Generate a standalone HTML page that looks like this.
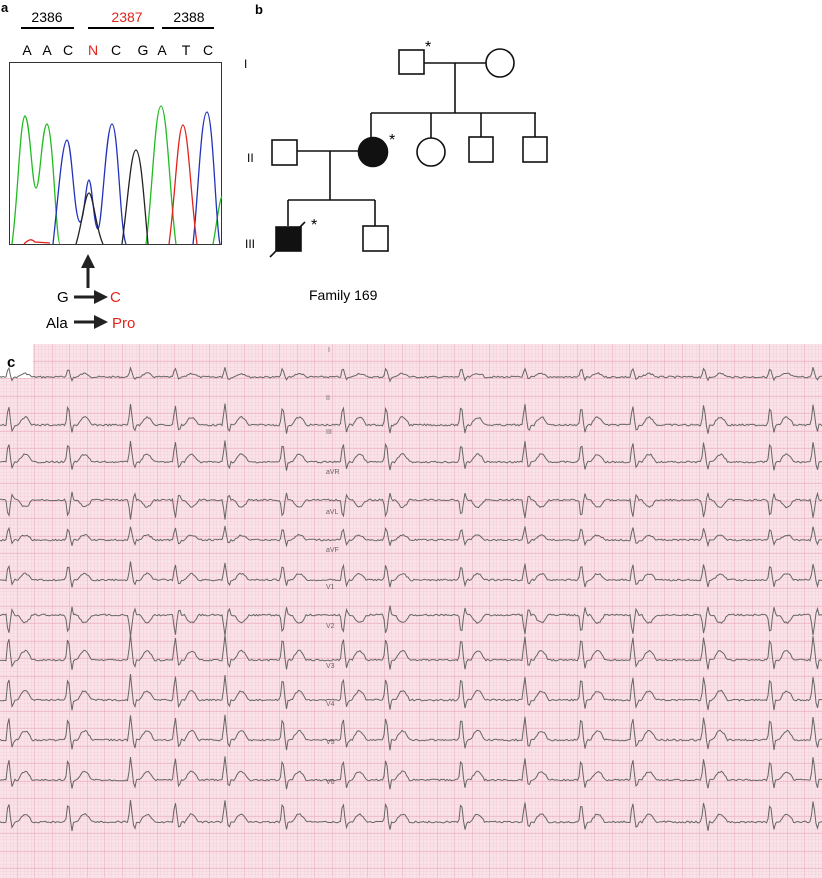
<!DOCTYPE html>
<html><head><meta charset="utf-8"><style>
html,body{margin:0;padding:0;background:#fff;}
body{width:822px;height:878px;position:relative;overflow:hidden;font-family:"Liberation Sans",sans-serif;}
svg{position:absolute;left:0;top:0;}
</style></head><body>
<svg width="822" height="878" viewBox="0 0 822 878" xmlns="http://www.w3.org/2000/svg">
<defs>
<pattern id="minor" width="3.5" height="3.5" patternUnits="userSpaceOnUse">
<path d="M3.5 0V3.5H0" fill="none" stroke="#f1c3cf" stroke-width="0.6"/>
</pattern>
<pattern id="major" x="0" y="344" width="17.5" height="17.5" patternUnits="userSpaceOnUse">
<path d="M17.5 0V17.5H0" fill="none" stroke="#e6a0b4" stroke-width="0.9"/>
</pattern>
</defs>
<rect x="0" y="344" width="822" height="534" fill="#fae2e9"/>
<rect x="0" y="344" width="822" height="534" fill="url(#minor)"/>
<rect x="0" y="344" width="822" height="534" fill="url(#major)"/>
<rect x="0" y="340" width="33" height="38" fill="#fff"/>
<text x="7" y="367" font-size="15" font-weight="bold">c</text>
<g id="ecg" fill="none" stroke="#666" stroke-width="1"></g>
<g font-size="7" fill="#666">
<text x="328" y="352">I</text><text x="326" y="400">II</text><text x="326" y="434">III</text>
<text x="326" y="474">aVR</text><text x="326" y="514">aVL</text><text x="326" y="552">aVF</text>
<text x="326" y="589">V1</text><text x="326" y="628">V2</text><text x="326" y="668">V3</text>
<text x="326" y="706">V4</text><text x="326" y="744">V5</text><text x="326" y="784">V6</text>
</g>

<text x="1" y="12" font-size="13" font-weight="bold">a</text>
<g font-size="14" text-anchor="middle">
<text x="47" y="22">2386</text><text x="127" y="22" fill="#e2231a">2387</text><text x="189" y="22">2388</text>
</g>
<g stroke="#000" stroke-width="2"><line x1="21" y1="28" x2="74" y2="28"/><line x1="88" y1="28" x2="154" y2="28"/><line x1="162" y1="28" x2="214" y2="28"/></g>
<g font-size="14" text-anchor="middle">
<text x="27" y="55">A</text><text x="47" y="55">A</text><text x="68" y="55">C</text><text x="93" y="55" fill="#e2231a">N</text><text x="116" y="55">C</text><text x="143" y="55">G</text><text x="162" y="55">A</text><text x="186" y="55">T</text><text x="208" y="55">C</text>
</g>
<rect x="9.5" y="62.5" width="212" height="182" fill="#fff" stroke="#333" stroke-width="1"/>
<g fill="none" stroke-width="1.3">
<path d="M12 244 C18 200 20 118 25 116 C30 118 32 188 36 188 C40 188 42 125 47 124 C53 126 56 244 60 244" stroke="#22bb22"/>
<path d="M146 244 C152 200 155 106 161 106 C167 106 170 200 176 244" stroke="#22bb22"/>
<path d="M213 244 C216 230 219 200 222 196" stroke="#22bb22"/>
<path d="M53 244 C58 200 62 141 67 140 C72 141 74 220 80 222 C84 222 86 180 89 180 C92 181 94 229 98 229 C102 228 106 124 112 124 C118 124 120 230 126 244" stroke="#2233bb"/>
<path d="M193 244 C198 200 201 112 207 112 C213 113 216 230 220 244" stroke="#2233bb"/>
<path d="M76 244 C82 225 85 193 89 193 C93 193 96 230 103 244" stroke="#222"/>
<path d="M122 244 C128 200 131 150 136 150 C141 151 144 200 148 244" stroke="#222"/>
<path d="M169 244 C175 200 178 125 183 125 C188 126 191 200 197 244" stroke="#e2231a"/>
<path d="M24 244 C28 240 31 238 35 242 L50 243" stroke="#e2231a"/>
</g>
<line x1="88" y1="288" x2="88" y2="266" stroke="#222" stroke-width="3"/>
<polygon points="81,268 95,268 88,254" fill="#222"/>
<text x="57" y="302" font-size="15">G</text>
<line x1="74" y1="297" x2="95" y2="297" stroke="#222" stroke-width="3"/>
<polygon points="94,290 108,297 94,304" fill="#222"/>
<text x="110" y="302" font-size="15" fill="#e2231a">C</text>
<text x="46" y="328" font-size="15">Ala</text>
<line x1="74" y1="322" x2="95" y2="322" stroke="#222" stroke-width="3"/>
<polygon points="94,315 108,322 94,329" fill="#222"/>
<text x="112" y="328" font-size="15" fill="#e2231a">Pro</text>

<text x="255" y="14" font-size="13" font-weight="bold">b</text>
<g font-size="12"><text x="244" y="68">I</text><text x="247" y="162">II</text><text x="245" y="248">III</text></g>
<g stroke="#111" stroke-width="1.6" fill="#fff">
<line x1="424" y1="63" x2="486" y2="63"/><line x1="455" y1="63" x2="455" y2="113"/>
<line x1="371" y1="113" x2="536" y2="113"/>
<line x1="371" y1="113" x2="371" y2="138"/><line x1="431" y1="113" x2="431" y2="138"/>
<line x1="481" y1="113" x2="481" y2="137"/><line x1="535" y1="113" x2="535" y2="137"/>
<line x1="297" y1="151" x2="358" y2="151"/><line x1="330" y1="151" x2="330" y2="200"/>
<line x1="288" y1="200" x2="375" y2="200"/><line x1="288" y1="200" x2="288" y2="226"/><line x1="375" y1="200" x2="375" y2="226"/>
<rect x="399" y="50" width="25" height="24"/>
<circle cx="500" cy="63" r="14"/>
<rect x="272" y="140" width="25" height="25"/>
<circle cx="373" cy="152" r="14.5" fill="#111"/>
<circle cx="431" cy="152" r="14"/>
<rect x="469" y="137" width="24" height="25"/>
<rect x="523" y="137" width="24" height="25"/>
<rect x="276" y="227" width="25" height="24" fill="#111"/>
<rect x="363" y="226" width="25" height="25"/>
<line x1="270" y1="257" x2="305" y2="222"/>
</g>
<g font-size="16"><text x="425" y="52">*</text><text x="389" y="145">*</text><text x="311" y="230">*</text></g>
<text x="309" y="300" font-size="14">Family 169</text>
</svg>
<script>
(function(){
var g=document.getElementById('ecg');
var bases=[377,425,462,500,540,580,615,660,700,740,780,822];
var amps=[10,22,22,20,14,18,22,26,26,26,24,22];
var seed=7;function r(){seed=(seed*9301+49297)%233280;return seed/233280;}
var beats=[];var x=8;while(x<822){beats.push(x);x+=40+r()*40;}
bases.forEach(function(b,li){
 var pts=[];var a=amps[li];var sgn=(li==3||li==6)?-1:1;
 for(var px=0;px<=822;px+=1.5){
  var y=b+(r()-0.5)*1.8;
  for(var k=0;k<beats.length;k++){
   var d=px-beats[k];
   if(d>-2&&d<3){y-=sgn*a*(1-Math.abs(d-0.5)/2.5);}
   else if(d>=3&&d<6){y+=sgn*a*0.4*(1-Math.abs(d-4.5)/1.5);}
   else if(d>10&&d<24){y-=sgn*a*0.35*Math.sin((d-10)/14*Math.PI);}
  }
  pts.push(px.toFixed(1)+','+y.toFixed(1));
 }
 var pl=document.createElementNS('http://www.w3.org/2000/svg','polyline');
 pl.setAttribute('points',pts.join(' '));g.appendChild(pl);
});
})();
</script>
</body></html>
